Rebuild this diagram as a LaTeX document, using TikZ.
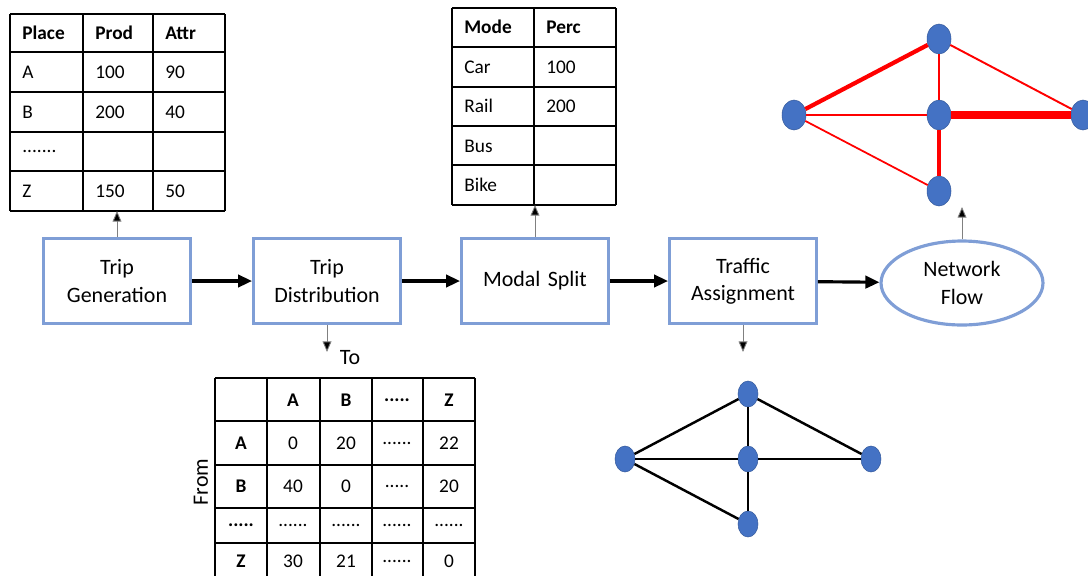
\documentclass[tikz,border=0pt]{standalone}
\usepackage{fontspec}
\setmainfont{Carlito}
\usetikzlibrary{shapes.geometric,arrows.meta}
\definecolor{boxblue}{RGB}{127,158,214}
\definecolor{nodeblue}{RGB}{68,114,196}
\newcommand{\fivedots}{.....}
\newcommand{\sixdots}{......}
\newcommand{\sevendots}{.......}
\tikzstyle{box} = [rectangle, minimum width=2.9cm, minimum height=1.7cm, text width=2.7cm, align=center, draw=boxblue, line width=1.8pt, font=\fontsize{12.5}{15.5}\selectfont]
\tikzstyle{flow} = [ellipse, minimum width=3.24cm, minimum height=1.68cm, align=center, draw=boxblue, line width=1.8pt, font=\fontsize{12.5}{15.5}\selectfont]
\tikzstyle{arrow} = [line width=1.8pt,-{Triangle[length=8pt,width=7pt]}]
\tikzstyle{link} = [gray, line width=0.5pt,-{Triangle[length=6pt,width=5pt,fill=black]}]
\tikzstyle{vertex} = [ellipse, fill=nodeblue, draw=nodeblue!80!black, line width=0.3pt, minimum width=0.48cm, minimum height=0.6cm, inner sep=0pt]
\tikzstyle{small vertex} = [vertex, minimum width=0.4cm, minimum height=0.52cm]
\tikzstyle{rule} = [line width=0.8pt]
\tikzstyle{cell} = [anchor=west, inner sep=0pt, font=\fontsize{11}{13}\selectfont]
\tikzstyle{mcell} = [inner sep=0pt, font=\fontsize{11}{13}\selectfont]

\begin{document}
\begin{tikzpicture}[x=0.02cm, y=-0.02cm]
\useasboundingbox (0,0) rectangle (1088,576);

% Nodes
\node (TG) [box] at (117,281) {Trip\\Generation};
\node (TD) [box] at (327,281) {Trip\\Distribution};
\node (MS) [box] at (535,281) {Modal Split};
\node (TA) [box] at (743,281) {Traffic\\Assignment};
\node (NF) [flow] at (962,283) {Network\\Flow};

% Arrows
\draw [arrow] (TG) -- (TD);
\draw [arrow] (TD) -- (MS);
\draw [arrow] (MS) -- (TA);
\draw [arrow] (TA) -- (NF);

% Productions and attractions
\foreach \x in {10,83,153,225} \draw [rule] (\x,14) -- (\x,211);
\foreach \y in {14,52,92,132,171,211} \draw [rule] (10,\y) -- (225,\y);
\node [cell, font=\fontsize{11}{13}\selectfont\bfseries] at (22,33) {Place};
\node [cell, font=\fontsize{11}{13}\selectfont\bfseries] at (95,33) {Prod};
\node [cell, font=\fontsize{11}{13}\selectfont\bfseries] at (165,33) {Attr};
\foreach \y/\a/\b/\c in {72/A/100/90, 112/B/200/40, 151/\sevendots/{}/{}, 191/Z/150/50} {
  \node [cell] at (22,\y) {\a};
  \node [cell] at (95,\y) {\b};
  \node [cell] at (165,\y) {\c};
}
\coordinate (PAbase) at (117,211);
\draw [link] (TG) -- (PAbase);

% Modes
\foreach \x in {452,534,616} \draw [rule] (\x,8) -- (\x,205);
\foreach \y in {8,47,87,126,165,205} \draw [rule] (452,\y) -- (616,\y);
\node [cell, font=\fontsize{11}{13}\selectfont\bfseries] at (464,27) {Mode};
\node [cell, font=\fontsize{11}{13}\selectfont\bfseries] at (546,27) {Perc};
\foreach \y/\a/\b in {67/Car/100, 106/Rail/200, 146/Bus/{}, 185/Bike/{}} {
  \node [cell] at (464,\y) {\a};
  \node [cell] at (546,\y) {\b};
}
\coordinate (MTbase) at (535,205);
\draw [link] (MS) -- (MTbase);

% Origin-destination matrix
\foreach \x in {215,267,320,372,423,475} \draw [rule] (\x,378) -- (\x,576);
\foreach \y in {378,421,465,508,543} \draw [rule] (215,\y) -- (475,\y);
\foreach \x/\t in {293/A, 346/B, 397/\fivedots, 449/Z}
  \node [mcell, font=\fontsize{11}{13}\selectfont\bfseries] at (\x,400) {\t};
\foreach \y/\r/\a/\b/\c/\d in {443/A/0/20/\sixdots/22, 486/B/40/0/\fivedots/20, 525/\fivedots/\sixdots/\sixdots/\sixdots/\sixdots, 561/Z/30/21/\sixdots/0} {
  \node [mcell, font=\fontsize{11}{13}\selectfont\bfseries] at (241,\y) {\r};
  \node [mcell] at (293,\y) {\a};
  \node [mcell] at (346,\y) {\b};
  \node [mcell] at (397,\y) {\c};
  \node [mcell] at (449,\y) {\d};
}
\node (to) [font=\fontsize{12.5}{15}\selectfont] at (350,358) {To};
\node (from) [rotate=90, font=\fontsize{12.5}{15}\selectfont] at (201,482) {From};
\coordinate (ODtop) at (327,352);
\draw [link] (TD) -- (ODtop);

% Road network
\node (a1) [small vertex] at (748,394) {};
\node (a2) [small vertex] at (625,459) {};
\node (a3) [small vertex] at (748,459) {};
\node (a4) [small vertex] at (871,459) {};
\node (a5) [small vertex] at (748,524) {};
\draw [line width=1.4pt] (a1) -- (a2);
\draw [line width=1.4pt] (a1) -- (a3);
\draw [line width=1.4pt] (a1) -- (a4);
\draw [line width=1.4pt] (a2) -- (a3);
\draw [line width=1.4pt] (a3) -- (a4);
\draw [line width=1.4pt] (a2) -- (a5);
\draw [line width=1.4pt] (a3) -- (a5);
\coordinate (RNtop) at (743,352);
\draw [link] (TA) -- (RNtop);

% Loaded network
\node (b1) [vertex] at (939,39) {};
\node (b2) [vertex] at (794,115) {};
\node (b3) [vertex] at (939,115) {};
\node (b4) [vertex] at (1083,115) {};
\node (b5) [vertex] at (939,191) {};
\draw [red, line width=2.4pt] (b1) -- (b2);
\draw [red, line width=0.6pt] (b1) -- (b3);
\draw [red, line width=1.1pt] (b1) -- (b4);
\draw [red, line width=1.3pt] (b2) -- (b3);
\draw [red, line width=4pt] (b3) -- (b4);
\draw [red, line width=1pt] (b2) -- (b5);
\draw [red, line width=2.4pt] (b3) -- (b5);
\coordinate (LNbase) at (962,207);
\draw [link] (NF) -- (LNbase);

\end{tikzpicture}
\end{document}
